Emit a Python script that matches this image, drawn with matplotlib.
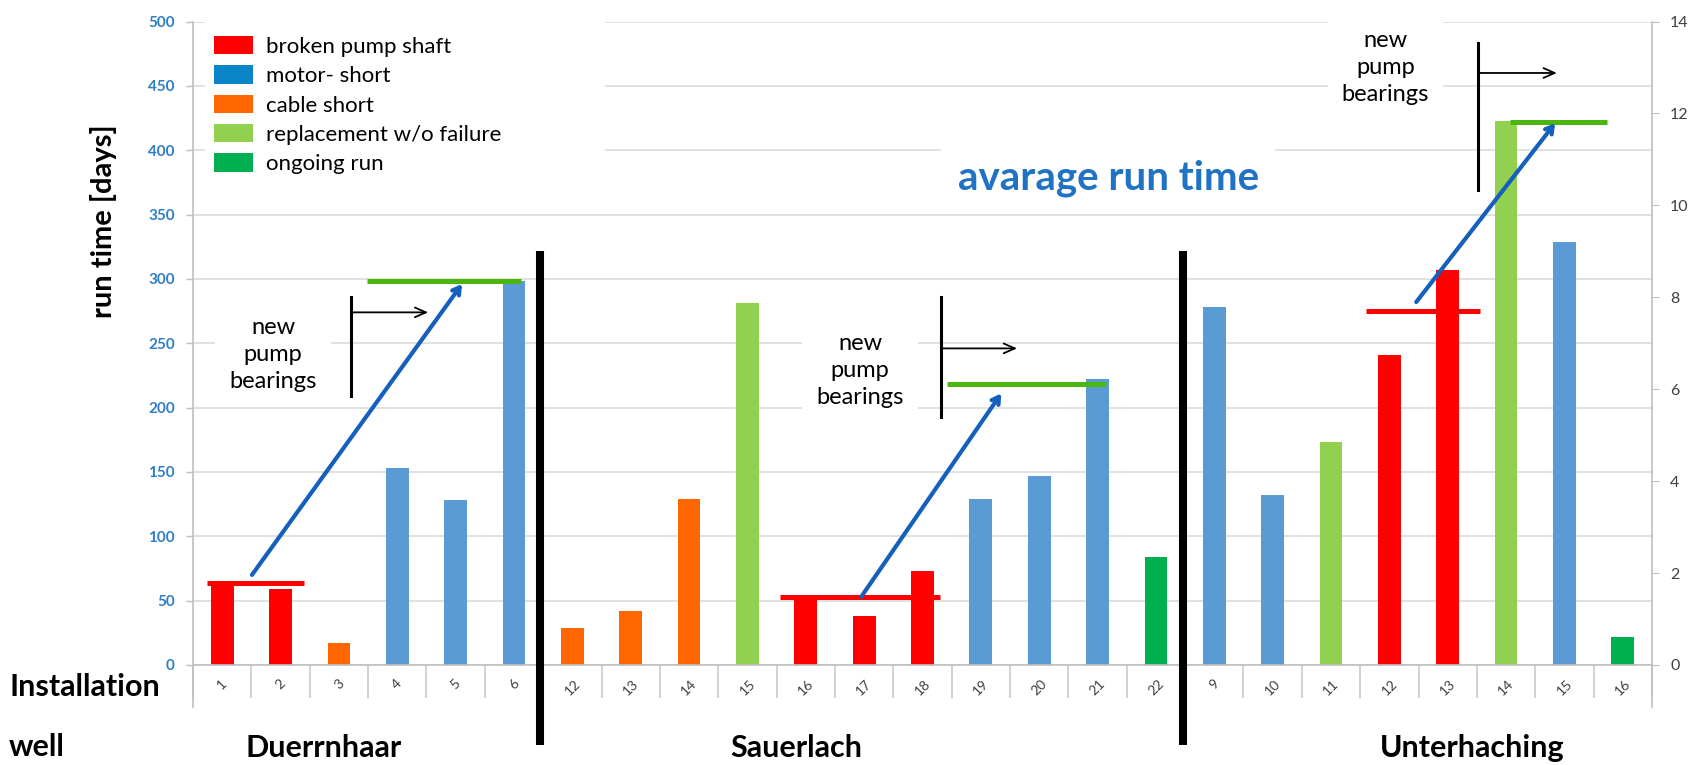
import numpy as np
import matplotlib.pyplot as plt
from matplotlib.patches import Patch, Rectangle

plt.rcParams['font.family'] = ['Lato', 'DejaVu Sans']

# wells in order along the category axis, grouped by site
sites = ['Duerrnhaar', 'Sauerlach', 'Unterhaching']
wells = ['1', '2', '3', '4', '5', '6',
         '12', '13', '14', '15', '16', '17', '18', '19', '20', '21', '22',
         '9', '10', '11', '12', '13', '14', '15', '16']
run_days = [62, 59, 17, 153, 128, 298,
            29, 42, 129, 281, 53, 38, 73, 129, 147, 222, 84,
            278, 132, 173, 241, 307, 423, 329, 22]
cause = ['shaft', 'shaft', 'cable', 'motor', 'motor', 'motor',
         'cable', 'cable', 'cable', 'repl', 'shaft', 'shaft', 'shaft', 'motor', 'motor', 'motor', 'ongoing',
         'motor', 'motor', 'repl', 'shaft', 'shaft', 'repl', 'motor', 'ongoing']

cause_names = ['broken pump shaft', 'motor- short', 'cable short', 'replacement w/o failure', 'ongoing run']
bar_colors = {'shaft': '#FF0000', 'motor': '#5B9BD5', 'cable': '#FF6600', 'repl': '#92D050', 'ongoing': '#00B050'}
legend_colors = ['#FF0000', '#0A86C8', '#FF6600', '#92D050', '#00B050']

# average run time before / after the new pump bearings, per site
avg_before = [64, 53, 275]
avg_after = [298, 218, 422]

W, H = 1693, 765
fig = plt.figure(figsize=(W / 100, H / 100), dpi=100)
ax = fig.add_axes([193 / W, 1 - 665 / H, (1652 - 193) / W, (665 - 21.5) / H])

x = np.arange(len(wells))
ax.bar(x, run_days, width=0.39, color=[bar_colors[c] for c in cause], zorder=2)

ax.set_xlim(-0.5, len(wells) - 0.5)
ax.set_ylim(0, 500)
ax.set_yticks(np.arange(0, 501, 50))
ax.tick_params(axis='y', colors='#BFBFBF', labelcolor='#2F7FC8', length=5, width=1, pad=8)
for t in ax.get_yticklabels():
    t.set_fontweight('bold')
    t.set_fontsize(11)
ax.set_xticks(x)
ax.set_xticklabels(wells, rotation=45, fontsize=10, color='#404040')
ax.tick_params(axis='x', length=0, pad=9)
ax.set_xticks(np.arange(-0.5, len(wells), 1.0), minor=True)
ax.tick_params(axis='x', which='minor', length=24, width=1.2, color='#C8C8C8', direction='out')
ax.yaxis.grid(True, color='#D9D9D9', lw=1.1)
ax.set_axisbelow(True)
for s in ['top', 'left', 'right']:
    ax.spines[s].set_visible(False)
ax.spines['bottom'].set_color('#BFBFBF')
ax.spines['bottom'].set_linewidth(1.2)
for xs in [-0.5, len(wells) - 0.5]:
    ax.plot([xs, xs], [-33, 500], color='#BFBFBF', lw=1.2, clip_on=False, zorder=1)

ax.set_ylabel('run time [days]', fontsize=21, fontweight='bold')
ax.yaxis.set_label_coords(-0.052, 0.69)

# right axis
ax2 = ax.twinx()
ax2.set_ylim(0, 14)
ax2.set_yticks(np.arange(0, 15, 2))
ax2.tick_params(axis='y', colors='#BFBFBF', labelcolor='#404040', labelsize=11.5, length=5, pad=8)
for s in ax2.spines.values():
    s.set_visible(False)

# white box behind the legend hiding gridlines
ax.add_patch(Rectangle((-0.29, 357), 6.85, 160, facecolor='white', edgecolor='none', zorder=1.2, clip_on=False))

# legend
handles = [Patch(facecolor=c, edgecolor='none') for c in legend_colors]
ax.legend(handles, cause_names, loc='upper left', bbox_to_anchor=(214 / W, 1 - 36 / H),
          bbox_transform=fig.transFigure, frameon=False, fontsize=16, borderpad=0, borderaxespad=0,
          handlelength=1.75, handleheight=0.9, handletextpad=0.6, labelspacing=0.38)

# site separators
for xs in [5.45, 16.46]:
    ax.plot([xs, xs], [-62, 322], color='black', lw=5.8, clip_on=False, zorder=4, solid_capstyle='butt')

# average lines
before_spans = [(-0.26, 1.40), (9.56, 12.30), (19.60, 21.55)]
after_spans = [(2.48, 5.12), (12.42, 15.14), (22.07, 23.73)]
for (a, b), v in zip(before_spans, avg_before):
    ax.plot([a, b], [v, v], color='#FF0000', lw=3.6, zorder=3, solid_capstyle='butt')
for (a, b), v in zip(after_spans, avg_after):
    ax.plot([a, b], [v, v], color='#4CB610', lw=3.6, zorder=3, solid_capstyle='butt')

# blue arrows from before to after
arrow_starts = [(0.51, 70), (10.95, 53), (20.46, 282)]
arrow_ends = [(4.11, 296), (13.35, 211), (22.84, 421)]
for s, e in zip(arrow_starts, arrow_ends):
    ax.annotate('', xy=e, xytext=s, zorder=5,
                arrowprops=dict(arrowstyle='->,head_length=0.5,head_width=0.3', color='#1560BD',
                                lw=3, shrinkA=0, shrinkB=0))

# "new pump bearings" brackets
brackets = [(2.21, 209, 286, 274, 3.53, 0.87, 241),
            (12.32, 193, 286, 246, 13.62, 10.93, 229),
            (21.52, 369, 483, 460, 22.87, 19.93, 464)]
for bx, y0, y1, ya, xa, tx, ty in brackets:
    ax.plot([bx, bx], [y0, y1], color='black', lw=2.2, zorder=4, clip_on=False)
    ax.annotate('', xy=(xa, ya), xytext=(bx, ya), zorder=4, annotation_clip=False,
                arrowprops=dict(arrowstyle='->,head_length=0.8,head_width=0.35', color='black',
                                lw=1.3, shrinkA=0, shrinkB=0))
    ax.text(tx, ty, 'new\npump\nbearings', ha='center', va='center', fontsize=17,
            linespacing=1.35, zorder=3, clip_on=False,
            bbox=dict(facecolor='white', edgecolor='none', pad=10))

ax.text(15.18, 378, 'avarage run time', ha='center', va='center', fontsize=29, fontweight='bold',
        color='#1F72C4', zorder=3, bbox=dict(facecolor='white', edgecolor='none', pad=12))

# bottom labels
fig.text(9 / W, 1 - 687 / H, 'Installation', fontsize=22, fontweight='bold', va='center', ha='left')
fig.text(9 / W, 1 - 747 / H, 'well', fontsize=22, fontweight='bold', va='center', ha='left')
for name, cx in zip(sites, [324, 796, 1472]):
    fig.text(cx / W, 1 - 748 / H, name, fontsize=22, fontweight='bold', va='center', ha='center')

fig.savefig('out.png', dpi=100)
